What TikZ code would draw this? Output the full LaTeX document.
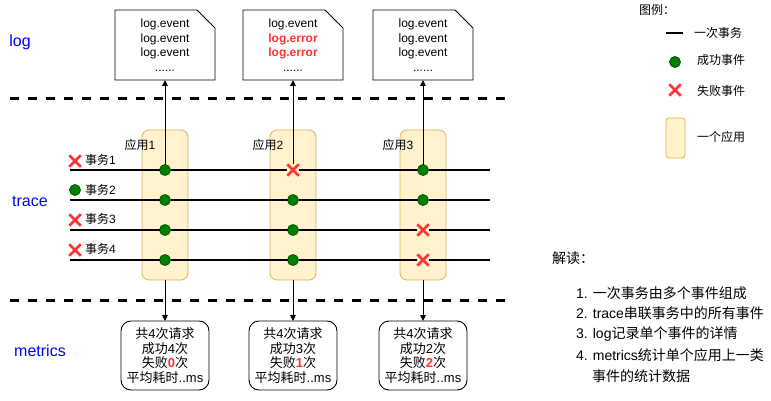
\documentclass[tikz,border=0pt]{standalone}
\usepackage{fontspec}
\setmainfont{Liberation Sans}
\newfontfamily\cjk{Noto Sans CJK SC}
\usetikzlibrary{shapes.misc,arrows.meta,backgrounds}
\definecolor{appfill}{HTML}{FFF2CC}
\definecolor{appline}{HTML}{D6B656}
\definecolor{okfill}{HTML}{008000}
\definecolor{okline}{HTML}{005700}
\definecolor{badred}{HTML}{FF3333}
\definecolor{lblblue}{HTML}{0000FF}
\newcommand\zh[1]{{\cjk #1}}
\newcommand\rb[1]{{\bfseries\color{badred}#1}}
\begin{document}
\begin{tikzpicture}[x=1pt,y=-1pt,
  every node/.style={inner sep=0pt,outer sep=0pt},
  lbl/.style={text=lblblue,font=\fontsize{16}{19}\selectfont},
  docnode/.style={minimum width=100pt,minimum height=70pt,align=center,font=\fontsize{12}{14.6}\selectfont},
  appbox/.style={draw=appline,fill=appfill,line width=0.8pt,rounded corners=7pt,minimum width=46pt,minimum height=150pt},
  ok/.style={circle,draw=okline,fill=okfill,minimum size=11pt,line width=0.8pt},
  bad/.style={cross out,draw=badred,line width=2.6pt,minimum size=8.5pt,outer sep=1.5pt},
  tline/.style={line width=1.6pt},
  conn/.style={line width=0.9pt,-{Triangle[length=6pt,width=5.5pt]}},
  statbox/.style={draw,line width=0.9pt,rounded corners=10pt,minimum width=88pt,minimum height=69pt,align=center,font=\fontsize{13}{14.5}\selectfont},
  txt/.style={font=\fontsize{12}{14}\selectfont},
  bigtxt/.style={font=\fontsize{14}{17}\selectfont},
  sep/.style={line width=3pt,dash pattern=on 9pt off 9pt},
]
\useasboundingbox (0,0) rectangle (771,401);

% section labels
\node[lbl] (llog) at (20,42) {log};
\node[lbl] (ltrace) at (30,201) {trace};
\node[lbl] (lmet) at (40,351) {metrics};

% separators
\coordinate (s1a) at (10,99); \coordinate (s1b) at (506,99);
\coordinate (s2a) at (10,300); \coordinate (s2b) at (506,300);
\draw[sep] (s1a) -- (s1b);
\draw[sep] (s2a) -- (s2b);

% log documents
\node[docnode] (doc1) at (165,45) {log.event\\log.event\\log.event\\......};
\node[docnode] (doc2) at (293,45) {log.event\\\rb{log.error}\\\rb{log.error}\\......};
\node[docnode] (doc3) at (423,45) {log.event\\log.event\\log.event\\......};
\foreach \d in {doc1,doc2,doc3}{
  \draw[line width=0.9pt] (\d.north west) -- ([xshift=-18pt]\d.north east) -- ([yshift=-18pt]\d.north east) -- (\d.south east) -- (\d.south west) -- cycle;
}

% events
\node[ok] (e11) at (165,170) {};
\node[bad] (e12) at (293,170) {};
\node[ok] (e13) at (423,170) {};
\node[ok] (e21) at (165,200) {};
\node[ok] (e22) at (293,200) {};
\node[ok] (e23) at (423,200) {};
\node[ok] (e31) at (165,230) {};
\node[ok] (e32) at (293,230) {};
\node[bad] (e33) at (423,230) {};
\node[ok] (e41) at (165,260) {};
\node[ok] (e42) at (293,260) {};
\node[bad] (e43) at (423,260) {};

% apps on background
\begin{scope}[on background layer]
\node[appbox] (app1) at (165,205) {};
\node[appbox] (app2) at (293,205) {};
\node[appbox] (app3) at (423,205) {};
\end{scope}
\node[txt] (al1) at (140,145) {\zh{应用}1};
\node[txt] (al2) at (268,145) {\zh{应用}2};
\node[txt] (al3) at (398,145) {\zh{应用}3};

% trace lines
\foreach \r/\y in {1/170,2/200,3/230,4/260}{
  \coordinate (t\r s) at (70,\y);
  \coordinate (t\r e) at (490,\y);
  \draw[tline] (t\r s) -- (e\r1) -- (e\r2) -- (e\r3) -- (t\r e);
}

% transaction labels
\node[bad] (m1) at (75,161) {};
\node[ok] (m2) at (75,190) {};
\node[bad] (m3) at (75,220) {};
\node[bad] (m4) at (75,250) {};
\node[txt,anchor=west] (tl1) at (85,160) {\zh{事务}1};
\node[txt,anchor=west] (tl2) at (85,190) {\zh{事务}2};
\node[txt,anchor=west] (tl3) at (85,219) {\zh{事务}3};
\node[txt,anchor=west] (tl4) at (85,249) {\zh{事务}4};

% metrics boxes
\node[statbox] (st1) at (165,355.5) {\zh{共}4\zh{次请求}\\\zh{成功}4\zh{次}\\\zh{失败}\rb{0}\zh{次}\\\zh{平均耗时}..ms};
\node[statbox] (st2) at (293,355.5) {\zh{共}4\zh{次请求}\\\zh{成功}3\zh{次}\\\zh{失败}\rb{1}\zh{次}\\\zh{平均耗时}..ms};
\node[statbox] (st3) at (423,355.5) {\zh{共}4\zh{次请求}\\\zh{成功}2\zh{次}\\\zh{失败}\rb{2}\zh{次}\\\zh{平均耗时}..ms};

% connectors
\draw[conn] (e11) -- (doc1.south);
\draw[conn] (e12) -- (doc2.south);
\draw[conn] (e13) -- (doc3.south);
\draw[conn] (app1.south) -- (st1.north);
\draw[conn] (app2.south) -- (st2.north);
\draw[conn] (app3.south) -- (st3.north);

% legend
\node[txt] (lgt) at (657,10) {\zh{图例：}};
\coordinate (lga) at (666,33); \coordinate (lgb) at (683,33);
\draw[line width=2pt] (lga) -- (lgb);
\node[txt,anchor=west] (lg1) at (694,33) {\zh{一次事务}};
\node[ok] (lgok) at (675,62) {};
\node[txt,anchor=west] (lg2) at (697,60) {\zh{成功事件}};
\node[bad] (lgbad) at (675,90) {};
\node[txt,anchor=west] (lg3) at (697,91) {\zh{失败事件}};
\node[draw=appline,fill=appfill,line width=0.8pt,rounded corners=3pt,minimum width=19pt,minimum height=40pt] (lgapp) at (675.5,138) {};
\node[txt,anchor=west] (lg4) at (697,137) {\zh{一个应用}};

% explanation
\node[bigtxt,anchor=west] (jd) at (552,258) {\zh{解读：}};
\node[bigtxt,anchor=west] (x1) at (576,293) {1. \zh{一次事务由多个事件组成}};
\node[bigtxt,anchor=west] (x2) at (576,313) {2. trace\zh{串联事务中的所有事件}};
\node[bigtxt,anchor=west] (x3) at (576,334) {3. log\zh{记录单个事件的详情}};
\node[bigtxt,anchor=west] (x4) at (576,355) {4. metrics\zh{统计单个应用上一类}};
\node[bigtxt,anchor=west] (x5) at (592,376) {\zh{事件的统计数据}};
\end{tikzpicture}
\end{document}
